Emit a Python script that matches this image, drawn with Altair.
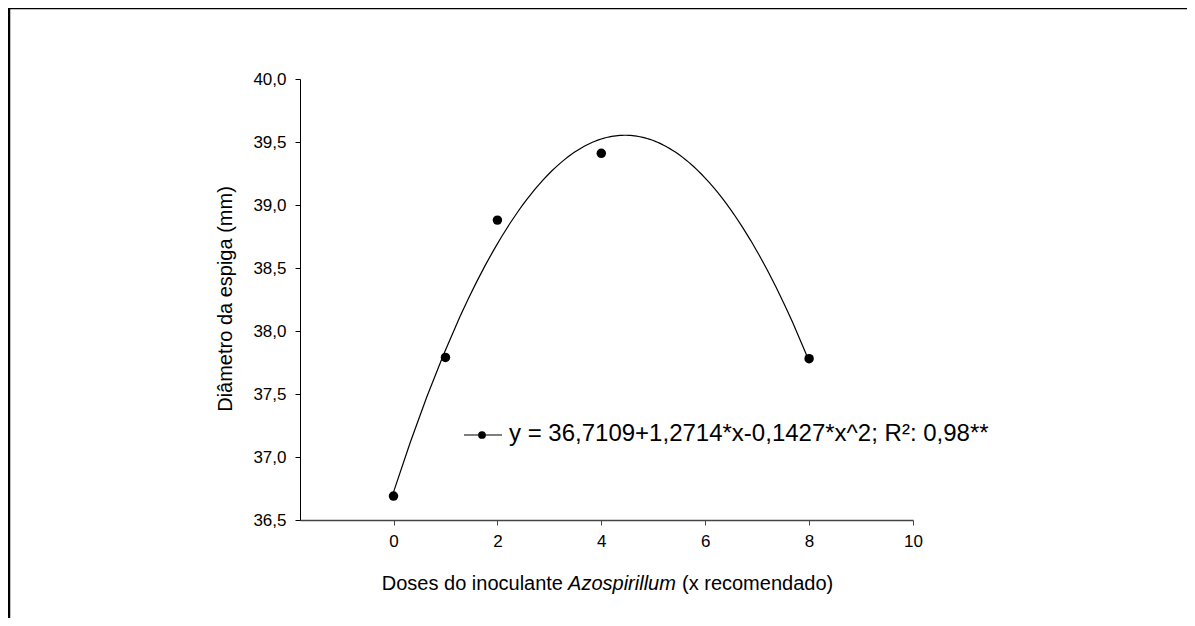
import altair as alt
import pandas as pd

doses = [0, 1, 2, 4, 8]
diametro = [36.69, 37.79, 38.88, 39.41, 37.78]
y_ticks = [36.5, 37.0, 37.5, 38.0, 38.5, 39.0, 39.5, 40.0]
x_ticks = [0, 2, 4, 6, 8, 10]
legend_text = "y = 36,7109+1,2714*x-0,1427*x^2; R\u00b2: 0,98**"
y_title = "Diâmetro da espiga (mm)"
x_title_parts = ["Doses do inoculante", "Azospirillum", "(x recomendado)"]

W, H = 613, 441
FONT = "Liberation Sans"

df = pd.DataFrame({"x": doses, "y": diametro})

xs = alt.Scale(domain=[-1.8, 10], nice=False, zero=False)
ys = alt.Scale(domain=[36.5, 40.0], nice=False, zero=False)

base = alt.Chart(df)

points = base.mark_circle(size=90, color="black", opacity=1).encode(
    x=alt.X("x:Q", scale=xs, axis=alt.Axis(
        values=x_ticks, title=None, grid=False, domainColor="#444444", domainWidth=1.5,
        tickColor="#444444", tickSize=5, labelFontSize=17, labelFont=FONT,
        labelColor="black", labelPadding=8, labelFlush=False)),
    y=alt.Y("y:Q", scale=ys, axis=alt.Axis(
        values=y_ticks, title=None, grid=False, domainColor="black", tickColor="black",
        tickSize=5, labelFontSize=17, labelFont=FONT, labelColor="black", labelPadding=9,
        labelExpr="replace(format(datum.value, '.1f'), '.', ',')")),
)

curve = base.transform_regression(
    "x", "y", method="poly", order=2, extent=[0, 8]
).mark_line(color="black", strokeWidth=1.2).encode(
    x=alt.X("x:Q", scale=xs), y=alt.Y("y:Q", scale=ys)
)

lg = pd.DataFrame({"t": [legend_text]})
legend_line = alt.Chart(lg).mark_rule(color="black", strokeWidth=1.2).encode(
    x=alt.value(164), x2=alt.value(202), y=alt.value(356))
legend_dot = alt.Chart(lg).mark_circle(size=60, color="black", opacity=1).encode(
    x=alt.value(182), y=alt.value(356))
legend_txt = alt.Chart(lg).mark_text(
    align="left", baseline="alphabetic", fontSize=24, font=FONT, color="black"
).encode(x=alt.value(209), y=alt.value(362), text="t:N")

yt = pd.DataFrame({"t": [y_title]})
ytitle = alt.Chart(yt).mark_text(
    angle=270, align="center", baseline="middle", fontSize=20, font=FONT, color="black"
).encode(x=alt.value(-74), y=alt.value(220), text="t:N")

xt1 = alt.Chart(pd.DataFrame({"t": [x_title_parts[0]]})).mark_text(
    align="right", baseline="alphabetic", fontSize=20, font=FONT, color="black"
).encode(x=alt.value(263), y=alt.value(511), text="t:N")
xt2 = alt.Chart(pd.DataFrame({"t": [x_title_parts[1]]})).mark_text(
    align="center", baseline="alphabetic", fontSize=20, font=FONT, fontStyle="italic", color="black"
).encode(x=alt.value(322), y=alt.value(511), text="t:N")
xt3 = alt.Chart(pd.DataFrame({"t": [x_title_parts[2]]})).mark_text(
    align="left", baseline="alphabetic", fontSize=20, font=FONT, color="black"
).encode(x=alt.value(382), y=alt.value(511), text="t:N")

border_top = alt.Chart(lg).mark_rule(color="black", strokeWidth=2.5).encode(
    x=alt.value(-292), x2=alt.value(W + 290), y=alt.value(-71))
border_left = alt.Chart(lg).mark_rule(color="black", strokeWidth=2.5).encode(
    x=alt.value(-291), y=alt.value(-72), y2=alt.value(H + 120))

chart = alt.layer(
    border_top, border_left, curve, points, legend_line, legend_dot, legend_txt,
    ytitle, xt1, xt2, xt3
).properties(
    width=W, height=H,
    autosize=alt.AutoSizeParams(type="none"),
    padding={"left": 292, "top": 71, "right": 274, "bottom": 98},
    background="white",
).configure_view(stroke=None)

chart.save("out.html", embed_options={"renderer": "svg", "actions": False})
